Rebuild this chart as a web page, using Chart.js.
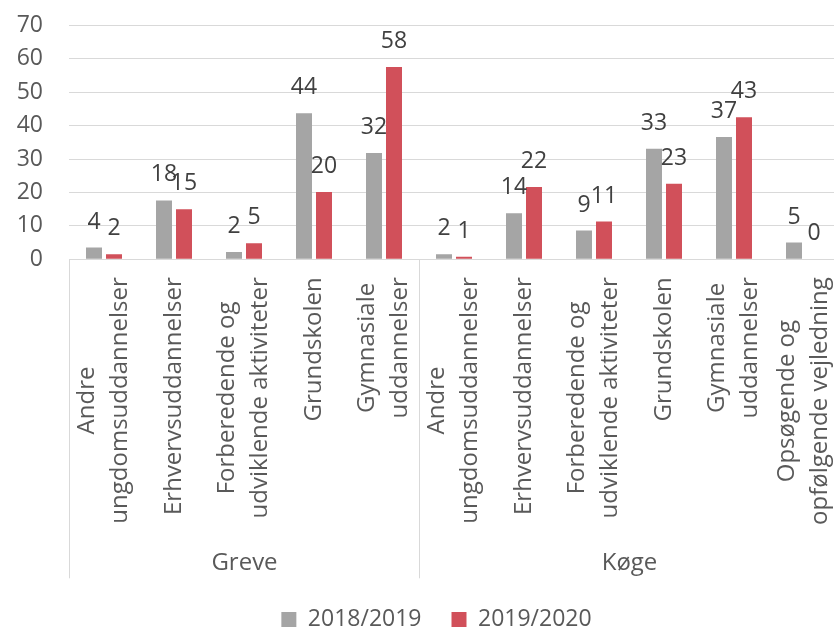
<!DOCTYPE html>
<html>
<head>
<meta charset="utf-8">
<script src="https://cdn.jsdelivr.net/npm/chart.js@4/dist/chart.umd.min.js"></script>
<style>
  html, body { margin: 0; padding: 0; overflow: hidden; background: #fff; width: 834px; height: 627px; }
  #wrap { position: absolute; left: 0; top: 0; width: 839px; height: 641px; }
</style>
</head>
<body>
<div id="wrap"><canvas id="c" width="839" height="641"></canvas></div>
<script>
// ---- data ----
const groups = ["Greve", "Køge"];
const groupSizes = [5, 6];
const categories = [
  ["Andre", "ungdomsuddannelser"],
  ["Erhvervsuddannelser"],
  ["Forberedende og", "udviklende aktiviteter"],
  ["Grundskolen"],
  ["Gymnasiale", "uddannelser"],
  ["Andre", "ungdomsuddannelser"],
  ["Erhvervsuddannelser"],
  ["Forberedende og", "udviklende aktiviteter"],
  ["Grundskolen"],
  ["Gymnasiale", "uddannelser"],
  ["Opsøgende og", "opfølgende vejledning"]
];
const seriesNames = ["2018/2019", "2019/2020"];
const values2018 = [3.5, 17.6, 2.2, 43.7, 31.8, 1.5, 13.8, 8.6, 33.1, 36.6, 5.0];
const values2019 = [1.5, 15.0, 4.8, 20.1, 57.5, 0.8, 21.6, 11.3, 22.6, 42.5, 0];
const yTicks = [0, 10, 20, 30, 40, 50, 60, 70];

const FONT = "'Open Sans', sans-serif";
const TEXT = "#595959";
const GRID = "#D9D9D9";

const labelPlugin = {
  id: 'customLabels',
  afterLayout(chart) {
    // centre the legend the way the original does (slightly right of canvas centre)
    if (chart.legend) chart.legend.left += 34;
  },
  afterDatasetsDraw(chart) {
    const ctx = chart.ctx;
    ctx.save();
    ctx.font = "23px " + FONT;
    ctx.fillStyle = "#404040";
    ctx.textAlign = "center";
    ctx.textBaseline = "alphabetic";
    chart.data.datasets.forEach((ds, di) => {
      const meta = chart.getDatasetMeta(di);
      meta.data.forEach((bar, i) => {
        const v = ds.data[i];
        if (v === null || v === undefined) return;
        ctx.fillText(String(Math.round(v)), bar.x, bar.y - 19);
      });
    });
    ctx.restore();
  },
  afterDraw(chart) {
    const ctx = chart.ctx;
    const xs = chart.scales.x;
    const area = chart.chartArea;
    const n = categories.length;
    const catW = (xs.getPixelForValue(1) - xs.getPixelForValue(0));
    ctx.save();
    // axis line
    ctx.strokeStyle = GRID;
    ctx.lineWidth = 1;
    ctx.beginPath();
    ctx.moveTo(area.left, Math.round(area.bottom) + 0.5);
    ctx.lineTo(area.right, Math.round(area.bottom) + 0.5);
    ctx.stroke();
    // group separators
    let idx = 0;
    const sepBottom = area.bottom + 319;
    const bounds = [];
    for (let g = 0; g <= groups.length; g++) {
      const x = Math.round(xs.getPixelForValue(idx) - catW / 2) + 0.5;
      bounds.push(x);
      ctx.beginPath();
      ctx.moveTo(x, area.bottom);
      ctx.lineTo(x, sepBottom);
      ctx.stroke();
      if (g < groups.length) idx += groupSizes[g];
    }
    // category labels
    ctx.fillStyle = TEXT;
    ctx.font = "24px " + FONT;
    ctx.textAlign = "center";
    ctx.textBaseline = "middle";
    const lineGap = 33;
    const topY = area.bottom + 18;
    for (let i = 0; i < n; i++) {
      const lines = categories[i];
      const cx = xs.getPixelForValue(i);
      const maxW = Math.max(...lines.map(l => ctx.measureText(l).width));
      lines.forEach((l, j) => {
        const lx = cx + (j - (lines.length - 1) / 2) * lineGap;
        ctx.save();
        ctx.translate(lx, topY + maxW / 2);
        ctx.rotate(-Math.PI / 2);
        ctx.fillText(l, 0, 0);
        ctx.restore();
      });
    }
    // group labels
    for (let g = 0; g < groups.length; g++) {
      const gx = (bounds[g] + bounds[g + 1]) / 2;
      ctx.fillText(groups[g], gx, area.bottom + 304);
    }
    ctx.restore();
  }
};

new Chart(document.getElementById('c'), {
  type: 'bar',
  data: {
    labels: categories.map(c => c.join(' ')),
    datasets: [
      { label: seriesNames[0], data: values2018, backgroundColor: '#A5A5A5',
        categoryPercentage: 0.5714, barPercentage: 0.8 },
      { label: seriesNames[1], data: values2019, backgroundColor: '#D1505A',
        categoryPercentage: 0.5714, barPercentage: 0.8 }
    ]
  },
  options: {
    responsive: false,
    animation: false,
    devicePixelRatio: 1,
    layout: { padding: { top: 25.3, left: 0, right: 0, bottom: 0 } },
    plugins: {
      legend: {
        position: 'bottom',
        labels: {
          boxWidth: 15, boxHeight: 15, padding: 30,
          color: TEXT, font: { family: FONT, size: 23 }
        }
      },
      tooltip: { enabled: false }
    },
    scales: {
      x: {
        type: 'category',
        grid: { display: false },
        border: { display: false },
        ticks: { display: false },
        afterFit(scale) { scale.height = 318.7; }
      },
      y: {
        min: 0, max: 70,
        afterBuildTicks(scale) { scale.ticks = yTicks.map(v => ({ value: v })); },
        afterFit(scale) { scale.width = 69; scale.paddingTop = 0; scale.paddingBottom = 0; },
        grid: { color: GRID, lineWidth: 1, drawTicks: false },
        border: { display: false },
        ticks: { color: TEXT, font: { family: FONT, size: 23 }, padding: 26 }
      }
    }
  },
  plugins: [labelPlugin]
});
</script>
</body>
</html>
